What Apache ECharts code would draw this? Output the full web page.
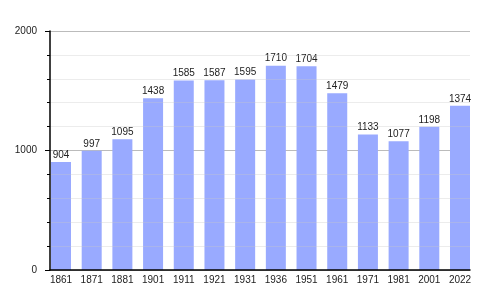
<!DOCTYPE html>
<html><head><meta charset="utf-8">
<script src="https://cdn.jsdelivr.net/npm/echarts@6/dist/echarts.min.js"></script>
<style>html,body{margin:0;padding:0;background:#fff}#c{width:500px;height:300px}</style>
</head><body><div id="c"></div>
<script>
var years = ['1861','1871','1881','1901','1911','1921','1931','1936','1951','1961','1971','1981','2001','2022'];
var population = [904,997,1095,1438,1585,1587,1595,1710,1704,1479,1133,1077,1198,1374];
var yTicks = [0,1000,2000];

var font = 'Liberation Sans, Arial, sans-serif';
var chart = echarts.init(document.getElementById('c'), null, {renderer:'canvas'});
chart.setOption({
  animation: false,
  backgroundColor: '#fff',
  grid: [
    {left: 50, right: 30, top: 31, bottom: 30},
    {left: 61, right: 40, top: 31, bottom: 30}
  ],
  xAxis: [
    {gridIndex: 0, type: 'value', min: 0, max: 1, z: 5,
     axisLine: {show: true, onZero: false, lineStyle: {color: '#000', width: 1.5}},
     axisTick: {show: false}, axisLabel: {show: false}, splitLine: {show: false}},
    {gridIndex: 1, type: 'category', data: years, boundaryGap: false,
     axisLine: {show: false}, axisTick: {show: false},
     axisLabel: {color: '#222', fontSize: 10, fontFamily: font, margin: 5, interval: 0},
     splitLine: {show: false}}
  ],
  yAxis: [
    {gridIndex: 0, type: 'value', min: yTicks[0], max: yTicks[yTicks.length-1], interval: 1000, z: 5,
     axisLine: {show: true, lineStyle: {color: '#000', width: 1.5}},
     axisTick: {show: true, length: 5, lineStyle: {color: '#000'}},
     minorTick: {show: true, splitNumber: 5, length: 3, lineStyle: {color: '#000'}},
     axisLabel: {color: '#222', fontSize: 10, fontFamily: font, margin: 13, formatter: function(v){ return String(v); }},
     splitLine: {show: false},
     minorSplitLine: {show: true, lineStyle: {color: 'rgba(200,200,200,0.35)', width: 1}}},
    {gridIndex: 0, type: 'value', min: 0, max: 2000, interval: 1000, z: 0,
     axisLine: {show: false}, axisTick: {show: false}, axisLabel: {show: false},
     splitLine: {show: true, lineStyle: {color: '#bbb', width: 1}}},
    {gridIndex: 1, type: 'value', min: 0, max: 2000, show: false}
  ],
  series: [{
    type: 'bar', xAxisIndex: 1, yAxisIndex: 2, data: population,
    barWidth: 20, clip: false, z: 2,
    itemStyle: {color: '#99aaff'},
    label: {show: true, position: 'top', distance: 2, color: '#222', fontSize: 10, fontFamily: font}
  }]
});
</script></body></html>
